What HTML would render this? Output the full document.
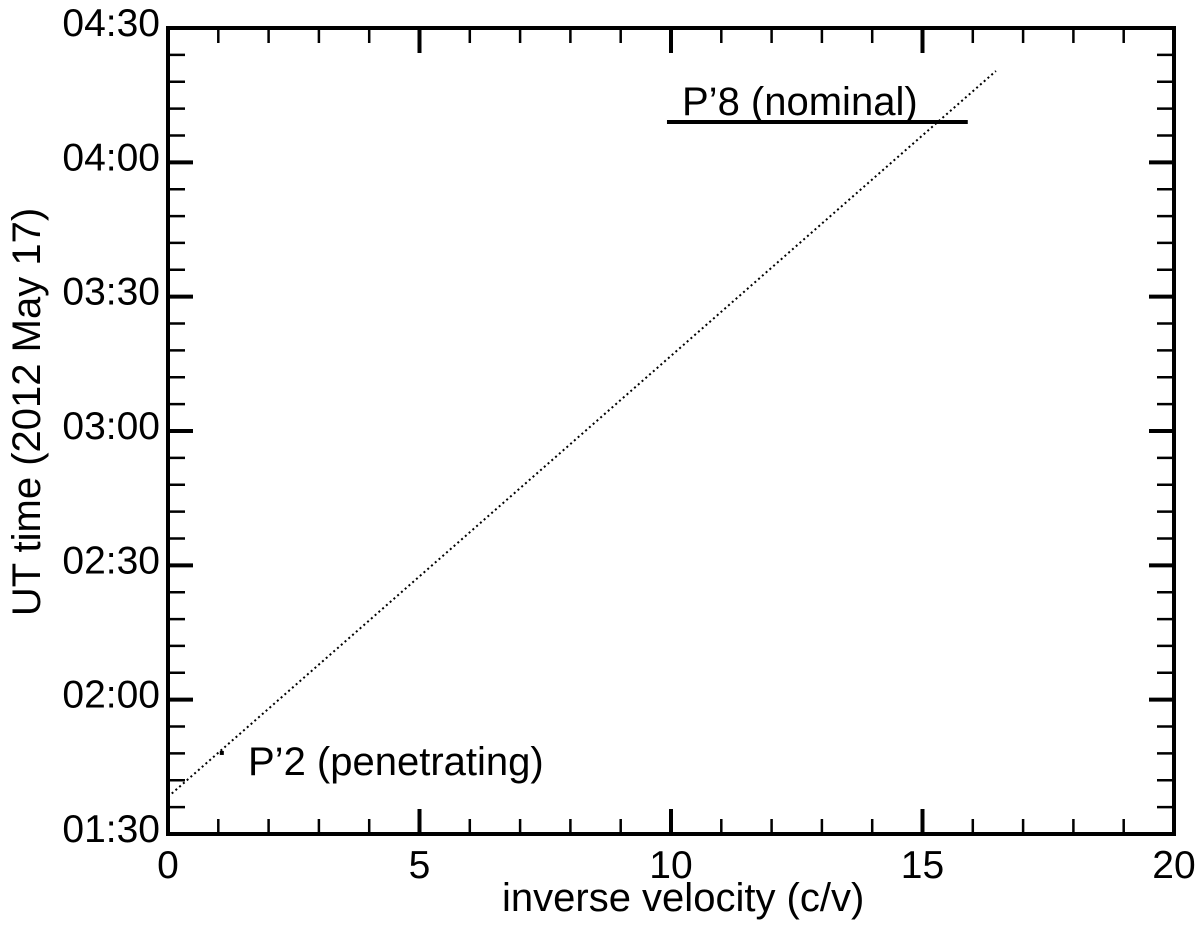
<!DOCTYPE html>
<html><head><meta charset="utf-8"><style>
body{margin:0;background:#fff}
svg text{font-family:"Liberation Sans",Arial,sans-serif;fill:#000}
</style></head><body>
<svg id="chart" width="1200" height="922"></svg>
<script>
const xTicks=[0,5,10,15,20];
const yTickMin=[90,120,150,180,210,240,270];
const yTickLabels=["01:30","02:00","02:30","03:00","03:30","04:00","04:30"];
const lineX=[0,16.46];
const lineT=[98.3,260.4];
const p2Point=[1.07,108.1];
const p8Bar=[9.92,15.9,249];
const NS="http://www.w3.org/2000/svg";
const svg=document.getElementById('chart');
const L=168,R=1174,T=28,B=834;
const xs=v=>L+(v-0)/(20-0)*(R-L);
const ys=m=>B-(m-90)/(270-90)*(B-T);
function mk(tag,attrs,parent){const e=document.createElementNS(NS,tag);for(const k in attrs)e.setAttribute(k,attrs[k]);(parent||svg).appendChild(e);return e;}
for(let v=0;v<=20;v++){
  const len=v%5===0?25:15;
  const t1=mk('line',{x1:xs(v),x2:xs(v),y1:B,y2:B-len,stroke:'#000','stroke-width':v%5===0?4:2.5});
  
  
  const t2=mk('line',{x1:xs(v),x2:xs(v),y1:T,y2:T+len,stroke:'#000','stroke-width':v%5===0?4:2.5});
  
  
}
for(let m=90;m<=270;m+=6){
  const maj=(m-90)%30===0;const len=maj?25:17;
  const t1=mk('line',{x1:L,x2:L+len,y1:ys(m),y2:ys(m),stroke:'#000','stroke-width':maj?4:2.5});
  
  
  const t2=mk('line',{x1:R,x2:R-len,y1:ys(m),y2:ys(m),stroke:'#000','stroke-width':maj?4:2.5});
  
  
}
const frame=mk('rect',{x:L,y:T,width:R-L,height:B-T,fill:'none',stroke:'#000','stroke-width':4});


xTicks.forEach(v=>{
  const t=mk('text',{x:xs(v),y:B+44,'text-anchor':'middle','font-size':39});
  t.textContent=v;
  
  
});
yTickMin.forEach((m,i)=>{
  const t=mk('text',{x:160,y:ys(m)+8,'text-anchor':'end','font-size':39});
  t.textContent=yTickLabels[i];
  
  
});
const xt=mk('text',{x:502,y:911,'font-size':40});
xt.textContent='inverse velocity (c/v)';


const yt=mk('text',{x:0,y:0,'text-anchor':'middle','font-size':40,transform:'translate(40,412) rotate(-90)'});
yt.textContent='UT time (2012 May 17)';


const ln=mk('line',{x1:xs(lineX[0]),y1:ys(lineT[0]),x2:xs(lineX[1]),y2:ys(lineT[1]),stroke:'#000','stroke-width':2,'stroke-dasharray':'2 3'});


const pt=mk('rect',{x:xs(p2Point[0])-2,y:ys(p2Point[1])-2,width:4,height:4,fill:'#000'});


const p2t=mk('text',{x:248,y:775,'font-size':40});
p2t.textContent='P\u20192 (penetrating)';


const bar=mk('line',{x1:xs(p8Bar[0]),x2:xs(p8Bar[1]),y1:ys(p8Bar[2]),y2:ys(p8Bar[2]),stroke:'#000','stroke-width':4});


const p8t=mk('text',{x:682,y:115,'font-size':40});
p8t.textContent='P\u20198 (nominal)';


</script>
</body></html>
